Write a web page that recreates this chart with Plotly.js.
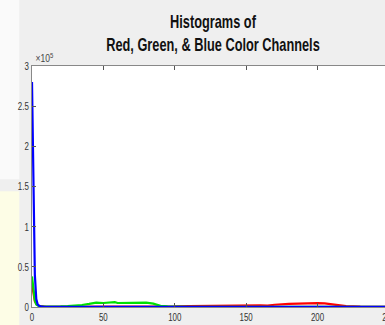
<!DOCTYPE html>
<html>
<head>
<meta charset="utf-8">
<script src="https://cdn.plot.ly/plotly-3.0.1.min.js"></script>
<style>
html,body{margin:0;padding:0;overflow:hidden;background:#efefef;}
#chart{width:400px;height:325px;}
</style>
</head>
<body>
<div id="chart"></div>
<script>
// Pixel intensity bins (sampled)
const bins = [0,1,2,3,4,5,6,8,10,15,20,25,30,35,40,45,50,55,58,60,65,70,75,80,85,90,95,100,110,120,130,140,150,160,165,170,180,190,200,205,210,215,220,230,240,250,255];
// Counts per channel
const redCounts = [28000,15000,7000,4000,2500,1500,1000,500,300,200,200,200,200,200,200,200,200,200,200,200,200,200,200,200,200,200,300,700,1200,1500,1800,2000,2000,2200,1800,2800,3800,4500,4800,4400,3500,2000,1000,400,200,100,100];
const greenCounts = [38000,20000,8000,3000,1500,800,500,400,400,500,700,1000,1500,2500,3800,5500,5000,5500,6000,5000,5000,5500,5500,5500,4200,1500,800,500,300,300,300,300,300,300,300,300,300,300,300,300,300,300,300,300,300,300,300];
const blueCounts = [280000,150000,40000,10000,3000,1500,800,500,300,200,200,200,200,200,200,200,200,200,200,200,200,200,200,200,200,200,200,200,200,200,200,200,200,200,200,200,200,200,200,200,200,200,200,200,200,200,200];
const yTickVals = [0,50000,100000,150000,200000,250000,300000];
const yTickText = ['0','0.5','1','1.5','2','2.5','3'];
const xTickVals = [0,50,100,150,200,250];

const font = "'Liberation Sans', Arial, sans-serif";
const mk = (y, c) => ({x: bins, y: y, type: 'scatter', mode: 'lines', line: {color: c, width: 2.2}, hoverinfo: 'skip'});

const layout = {
  width: 400, height: 325,
  margin: {l: 32, r: 4, t: 66, b: 18},
  paper_bgcolor: '#efefef',
  plot_bgcolor: '#ffffff',
  showlegend: false,
  title: {text: 'Histograms of<br>Red, Green, & Blue Color Channels', x: 0.5325, xanchor: 'center', y: 0.914, yanchor: 'top',
          font: {family: font, size: 18, color: '#111111', weight: 'bold'}},
  xaxis: {range: [0, 255], tickvals: xTickVals, ticks: 'inside', ticklen: 4, tickcolor: '#555',
          showgrid: false, zeroline: false, showline: true, linecolor: '#888', linewidth: 1, mirror: 'ticks',
          tickfont: {family: font, size: 11, color: '#333'}},
  yaxis: {range: [0, 300000], tickvals: yTickVals, ticktext: yTickText, ticks: 'inside', ticklen: 4, tickcolor: '#555',
          showgrid: false, zeroline: false, showline: true, linecolor: '#888', linewidth: 1, mirror: 'ticks',
          tickfont: {family: font, size: 11, color: '#333'}},
  annotations: [{text: '×10<sup>5</sup>', xref: 'paper', yref: 'paper', x: 0.0, y: 1.0, xanchor: 'left', yanchor: 'bottom',
                 showarrow: false, font: {family: font, size: 10, color: '#444'}}],
  shapes: [
    {type: 'rect', xref: 'paper', yref: 'paper', x0: -0.09, x1: -0.035, y0: 0.53, y1: 1.28, fillcolor: '#fafafa', line: {width: 0}, layer: 'below'},
    {type: 'rect', xref: 'paper', yref: 'paper', x0: -0.09, x1: -0.035, y0: -0.08, y1: 0.48, fillcolor: '#fdfde6', line: {width: 0}, layer: 'below'}
  ]
};

function squeeze(el, s) {
  const t = el.getAttribute('transform') || '';
  const x = parseFloat(el.getAttribute('x')) || 0;
  el.setAttribute('transform', t + ` translate(${x},0) scale(${s},1) translate(${-x},0)`);
}

Plotly.newPlot('chart', [mk(redCounts, '#ff0000'), mk(greenCounts, '#00e000'), mk(blueCounts, '#0000ff')], layout, {displayModeBar: false, staticPlot: true})
  .then(gd => {
    gd.querySelectorAll('.gtitle').forEach(el => squeeze(el, 0.71));
    gd.querySelectorAll('.xtick text, .ytick text').forEach(el => squeeze(el, 0.72));
    gd.querySelectorAll('.annotation-text').forEach(el => squeeze(el, 0.85));
  });
</script>
</body>
</html>
